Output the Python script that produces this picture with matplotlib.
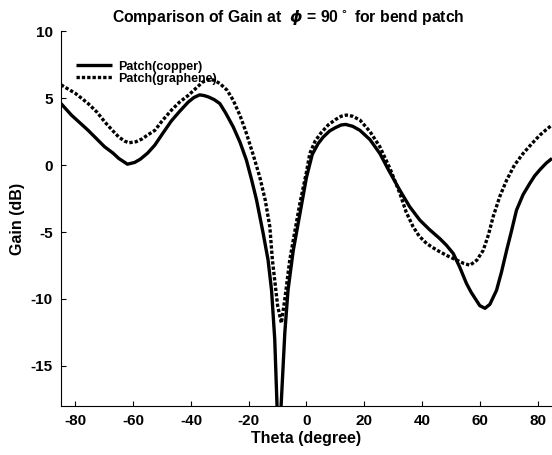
import matplotlib
matplotlib.use("Agg")
import matplotlib.pyplot as plt
import numpy as np

# Gain at phi = 90 deg
theta_cu = [-85, -81.4, -75.6, -69.9, -67, -65, -62, -59.5, -57.5, -55, -52.5, -50, -46.8,
            -44, -41, -39, -37, -35.5, -34, -32, -30, -28, -25.4, -23, -20.8, -19, -17.3,
            -15, -13.3, -12.1, -11, -10.2, -9.5, -8.8, -7.5, -6.4, -4.6, -2, 0, 2, 4, 5.8,
            8, 10, 12, 13.6, 16, 18.5, 22, 25.4, 28.5, 32.3, 35.7, 39.2, 42.5, 46.2, 48.5,
            50.8, 53, 55.4, 57, 58.5, 60, 61.8, 63.5, 65.8, 67.5, 69.3, 71, 72.7, 75, 77.3,
            79, 81, 83, 85]
gain_cu = [4.6, 3.74, 2.6, 1.37, 0.9, 0.5, 0.07, 0.2, 0.45, 0.9, 1.5, 2.3, 3.3,
           4.0, 4.7, 5.05, 5.25, 5.2, 5.1, 4.9, 4.6, 3.9, 2.87, 1.7, 0.37, -1.1, -2.6,
           -5.1, -7.1, -9.35, -13.0, -18.0, -22.0, -18.0, -12.5, -9.35, -6.4, -3.3, -0.9, 0.8, 1.6, 2.1,
           2.55, 2.8, 3.0, 3.04, 2.9, 2.6, 1.9, 0.87, -0.4, -1.87, -3.1, -4.1, -4.8, -5.5, -6.0,
           -6.6, -7.6, -8.85, -9.5, -10.0, -10.5, -10.7, -10.4, -9.35, -8.0, -6.36, -4.9, -3.37, -2.2, -1.37,
           -0.8, -0.3, 0.15, 0.5]

theta_gr = [-85, -80, -75.6, -72.5, -69.9, -67, -65, -63, -61.5, -59, -57, -55, -52.5, -50,
            -46.8, -44, -41, -38, -36, -34, -32, -30, -27.5, -25.4, -23, -20.8, -18.5, -16.2,
            -14.3, -12.7, -11.8, -10, -8.7, -7.5, -5.8, -4, -2.3, 0, 1.15, 3, 5, 7.5, 10, 12,
            13.8, 16, 18.5, 22, 25.4, 29, 32.3, 34.5, 36.9, 39, 41.6, 44, 46.2, 49, 52, 54.5,
            56.6, 59, 61.2, 63, 64.6, 67, 69.3, 72, 75, 78, 80.8, 83, 85]
gain_gr = [6.0, 5.36, 4.6, 3.95, 3.24, 2.55, 2.1, 1.8, 1.67, 1.75, 1.95, 2.25, 2.6, 3.3,
           4.1, 4.7, 5.2, 5.8, 6.2, 6.4, 6.35, 6.1, 5.6, 4.86, 3.7, 2.37, 0.8, -0.87,
           -2.6, -4.6, -7.1, -10.5, -11.8, -10.0, -7.1, -4.9, -2.87, -0.5, 0.87, 1.8, 2.4, 3.0, 3.4, 3.65,
           3.74, 3.65, 3.37, 2.5, 1.37, -0.3, -2.1, -3.5, -4.6, -5.3, -5.86, -6.2, -6.48, -6.8, -7.1, -7.35,
           -7.48, -7.1, -6.36, -5.2, -3.87, -2.3, -1.12, 0.0, 0.87, 1.6, 2.24, 2.65, 3.0]

plt.rcParams['font.family'] = ['Liberation Sans', 'DejaVu Sans']
plt.rcParams['font.weight'] = 'bold'
plt.rcParams['axes.unicode_minus'] = False

fig = plt.figure(figsize=(5.52, 4.55), dpi=100)
ax = fig.add_axes([0.1105, 0.1077, 0.8895, 0.8235])

ax.plot(theta_cu, gain_cu, color='k', lw=2.4, label="Patch(copper)", solid_capstyle='butt')
ax.plot(theta_gr, gain_gr, color='k', lw=2.4, linestyle=(0, (1, 0.6)),
        dash_capstyle='butt', label="Patch(graphene)")

ax.set_xlim(-85, 85)
ax.set_ylim(-18, 10)
ax.set_xticks([-80, -60, -40, -20, 0, 20, 40, 60, 80])
ax.set_yticks([-15, -10, -5, 0, 5, 10])
ax.tick_params(direction='in', length=3.5, width=0.8, labelsize=11, pad=6)
for lab in ax.get_xticklabels() + ax.get_yticklabels():
    lab.set_fontweight('bold')
ax.spines['top'].set_visible(False)
ax.spines['right'].set_visible(False)

ax.set_xlabel("Theta (degree)", fontsize=11.5, fontweight='bold', labelpad=2)
ax.set_ylabel("Gain (dB)", fontsize=11.5, fontweight='bold', labelpad=4)

fig.text(288 / 552, 0.962, r'Comparison of Gain at  $\phi$ = 90$^\circ$ for bend patch',
         ha='center', va='center', fontsize=11.3, fontweight='bold')

leg = ax.legend(loc='upper left', bbox_to_anchor=(0.02, 0.935), frameon=False,
                prop={'size': 9, 'weight': 'bold'}, handlelength=2.9,
                handletextpad=0.5, labelspacing=0.0, borderaxespad=0)

fig.savefig("out.png", dpi=100)
